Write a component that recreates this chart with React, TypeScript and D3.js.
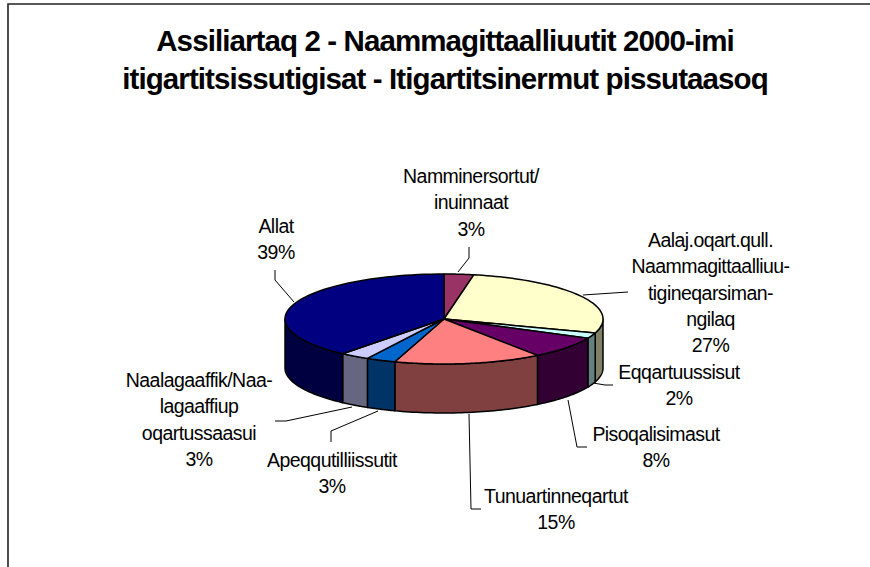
import React from "react";
import * as d3 from "d3";

const categories = ["Namminersortut/inuinnaat","Aalaj.oqart.qull.","Eqqartuussisut","Pisoqalisimasut","Tunuartinneqartut","Apeqqutilliissutit","Naalagaaffik","Allat"];
const shares = [3,27,2,8,15,3,3,39];
const topColors = ["#993366","#FFFFCC","#CCFFFF","#660066","#FF8080","#0066CC","#CCCCFF","#000080"];
const sideColors = ["#4D1933","#808066","#668080","#330033","#804040","#003366","#666680","#000040"];
const titleLines = ["Assiliartaq 2 - Naammagittaalliuutit 2000-imi","itigartitsissutigisat - Itigartitsinermut pissutaasoq"];
const labelBlocks = [
  {x:471,y:183,lines:["Namminersortut/","inuinnaat","3%"]},
  {x:710.5,y:247,lines:["Aalaj.oqart.qull.","Naammagittaalliuu-","tigineqarsiman-","ngilaq","27%"]},
  {x:679,y:378.5,lines:["Eqqartuussisut","2%"]},
  {x:656,y:441,lines:["Pisoqalisimasut","8%"]},
  {x:556,y:503,lines:["Tunuartinneqartut","15%"]},
  {x:332,y:466.5,lines:["Apeqqutilliissutit","3%"]},
  {x:199,y:387,lines:["Naalagaaffik/Naa-","lagaaffiup","oqartussaasui","3%"]},
  {x:276,y:233,lines:["Allat","39%"]},
];
const leaders = [
  [[458,272],[469,258],[469,247]],
  [[583,295],[628,292]],
  [[593,383],[605,385],[613,385]],
  [[568,400],[577,447],[587,447]],
  [[469,414],[471,509],[481,509]],
  [[378,411],[331,431],[331,442]],
  [[352,407],[286,421],[275,421]],
  [[294,302],[275,280],[275,270]],
];

const cx = 444, cy = 319, rx = 159, ry = 45, depth = 49;

export default function App() {
  const pie = d3.pie<number>().sort(null).value(d => d)(shares);
  const pt = (a: number, dy = 0): [number, number] => [cx + rx * Math.sin(a), cy - ry * Math.cos(a) + dy];
  const line = d3.line();
  const sides = pie.map((s, i) => {
    const a0 = Math.max(s.startAngle, Math.PI / 2), a1 = Math.min(s.endAngle, Math.PI * 1.5);
    if (a1 <= a0) return null;
    const as = d3.range(0, 41).map(k => a0 + (a1 - a0) * k / 40);
    const pts = [...as.map(a => pt(a)), ...as.slice().reverse().map(a => pt(a, depth))];
    return <path key={i} d={line(pts) + "Z"} fill={sideColors[i]} stroke="#000" strokeWidth={1.5} strokeLinejoin="round" />;
  });
  const tops = pie.map((s, i) => {
    const as = d3.range(0, 61).map(k => s.startAngle + (s.endAngle - s.startAngle) * k / 60);
    const pts: [number, number][] = [[cx, cy], ...as.map(a => pt(a))];
    return <path key={i} d={line(pts) + "Z"} fill={topColors[i]} stroke="#000" strokeWidth={1.5} strokeLinejoin="round" />;
  });
  return (
    <svg width={870} height={567} style={{ position: "absolute", left: 0, top: 0 }} fontFamily="'Liberation Sans', Arial, sans-serif">
      <rect width={870} height={567} fill="#fff" />
      <path d="M8 567V4H870" fill="none" stroke="#222" strokeWidth={1.6} />
      {titleLines.map((t, i) => (
        <text key={i} x={445} y={51 + i * 38} textAnchor="middle" fontSize={29.5} fontWeight={700} letterSpacing={-0.9} fill="#000">{t}</text>
      ))}
      {sides}
      {tops}
      {leaders.map((l, i) => <path key={i} d={line(l as [number, number][])!} fill="none" stroke="#000" strokeWidth={1} />)}
      {labelBlocks.map((b, i) => (
        <text key={i} textAnchor="middle" fontSize={19.5} letterSpacing={-0.55} fill="#000">
          {b.lines.map((t, j) => <tspan key={j} x={b.x} y={b.y + j * 26.3}>{t}</tspan>)}
        </text>
      ))}
    </svg>
  );
}
